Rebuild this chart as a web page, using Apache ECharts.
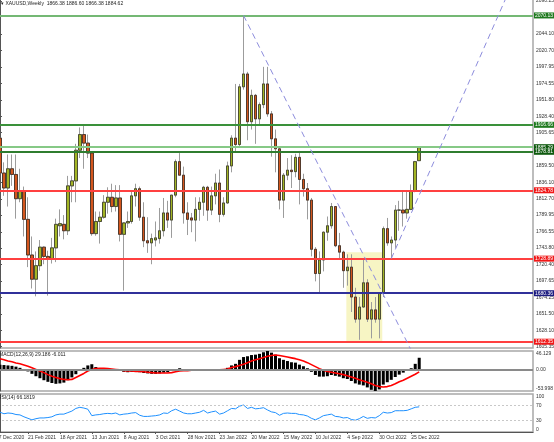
<!DOCTYPE html>
<html><head><meta charset="utf-8">
<script src="https://cdn.jsdelivr.net/npm/echarts/dist/echarts.min.js"></script>
<style>html,body{margin:0;padding:0;background:#fff}#c{width:554px;height:442px}</style>
</head><body><div id="c"></div>
<script>
// weekly bars, index 0 = week of 3 Jan 2021
const opens  = [1898,1849,1828,1855,1847,1813,1824,1784,1734,1700,1719,1745,1732,1729,1744,1775,1777,1768,1831,1838,1881,1903,1891,1877,1764,1781,1787,1808,1815,1802,1814,1763,1779,1781,1817,1827,1787,1754,1751,1755,1757,1768,1793,1783,1818,1865,1846,1793,1786,1783,1798,1808,1829,1797,1817,1835,1791,1807,1859,1898,1889,1970,1988,1921,1958,1925,1945,1974,1932,1897,1883,1811,1846,1853,1851,1871,1840,1827,1811,1742,1708,1727,1766,1775,1802,1747,1738,1712,1717,1675,1644,1661,1695,1644,1657,1644,1681,1771,1751,1755,1797,1797,1793,1798,1824,1866.38];
const highs  = [1959,1864,1875,1875,1875,1855,1830,1815,1760,1739,1755,1746,1740,1758,1785,1798,1790,1845,1845,1890,1913,1916,1903,1878,1795,1795,1818,1829,1834,1832,1832,1780,1795,1823,1834,1830,1808,1787,1764,1781,1800,1814,1810,1818,1868,1877,1858,1808,1793,1815,1815,1831,1831,1830,1848,1854,1815,1865,1902,1974,1974,2070,1991,1966,1960,1948,1998,1998,1936,1910,1885,1849,1870,1874,1876,1880,1848,1835,1814,1745,1739,1767,1788,1807,1802,1765,1740,1735,1735,1688,1675,1729,1700,1668,1675,1682,1774,1786,1760,1804,1810,1825,1823,1833,1866,1886.60];
const lows   = [1834,1817,1802,1831,1785,1808,1760,1717,1687,1676,1712,1721,1677,1722,1724,1760,1756,1762,1808,1808,1870,1855,1870,1761,1761,1750,1785,1792,1794,1795,1753,1684,1772,1778,1802,1782,1745,1737,1721,1746,1750,1760,1772,1758,1815,1846,1778,1762,1766,1753,1782,1789,1782,1790,1805,1780,1788,1806,1850,1878,1885,1966,1895,1910,1890,1915,1940,1928,1872,1850,1798,1786,1839,1828,1843,1805,1816,1784,1732,1697,1681,1711,1754,1771,1745,1727,1688,1691,1654,1639,1615,1660,1640,1617,1639,1617,1675,1747,1728,1744,1768,1774,1785,1797,1822,1866.38];
const closes = [1849,1828,1855,1847,1813,1824,1784,1734,1700,1719,1745,1732,1729,1744,1777,1778,1768,1831,1838,1881,1903,1891,1877,1764,1781,1787,1808,1815,1802,1814,1763,1779,1781,1817,1827,1787,1754,1751,1757,1758,1768,1793,1783,1818,1865,1846,1793,1784,1783,1798,1808,1829,1797,1817,1835,1791,1807,1859,1898,1889,1970,1988,1921,1958,1925,1945,1974,1932,1897,1883,1811,1846,1853,1851,1871,1840,1827,1811,1742,1708,1727,1766,1775,1802,1747,1738,1712,1717,1675,1644,1661,1695,1644,1657,1644,1681,1771,1751,1755,1797,1797,1793,1798,1824,1865,1884.62];

const macdMain = [12,11,10,9,7,4,0,-5,-11,-17,-22,-27,-31,-34,-36,-35,-33,-27,-20,-12,-4,4,10,13,6,2,0,-1,-1,-2,-4,-6,-7,-6,-5,-7,-9,-10,-11,-11,-10,-8,-7,-4,1,3,1,-1,-2,-2,-2,0,-1,0,1,0,1,4,10,14,24,31,33,36,37,39,43,46.1,42,37,28,24,21,18,17,12,8,3,-6,-14,-18,-18,-17,-14,-16,-18,-22,-24,-29,-35,-38,-40,-45,-51,-54,-50,-38,-32,-26,-19,-13,-8,-3,3,14,29.186];
const macdSignal = [27,24,21,19,16,14,11,8,4,0,-4,-8,-13,-17,-20,-23,-25,-26,-25,-20,-15,-10,-4,0,2,3,3,2,1,0,-1,-3,-4,-4,-5,-5,-6,-7,-8,-9,-9,-9,-9,-8,-6,-4,-3,-3,-2,-2,-2,-2,-1,-1,-1,-1,0,1,5,7,10,13,17,21,24,27,30,33,35,36,35,33,31,29,27,24,21,17,12,7,2,-2,-5,-7,-9,-11,-13,-16,-19,-22,-26,-29,-32,-36,-40,-43,-44,-43,-40,-36,-31,-27,-22,-17,-12,-6.011];
const rsi = [52,48,50,49,46,45,40,36,32,35,37,37,38,40,45,47,47,51,55,62,65,63,60,43,45,46,48,49,48,50,45,47,48,50,51,44,41,41,42,43,45,50,49,56,60,55,50,48,48,50,52,57,50,53,55,47,50,56,62,61,68,71,62,65,61,62,64,58,53,51,44,49,50,49,49,46,45,42,36,32,37,43,45,47,41,40,37,38,33,31,35,41,36,38,37,43,52,50,51,56,56,56,57,61,65,66.18];

const priceTicks = [2090.25,2044.10,2020.70,1997.95,1974.55,1951.80,1928.40,1905.65,1859.50,1836.10,1812.70,1789.95,1766.55,1743.80,1720.40,1697.65,1674.25,1651.50,1628.10,1605.35];
const dateTicks = ['27 Dec 2020','21 Feb 2021','18 Apr 2021','13 Jun 2021','8 Aug 2021','3 Oct 2021','28 Nov 2021','23 Jan 2022','20 Mar 2022','15 May 2022','10 Jul 2022','4 Sep 2022','30 Oct 2022','25 Dec 2022'];
const dateTickPos = [-1,7,15,23,31,39,47,55,63,71,79,87,95,103];
const macdTickText = ['46.129','0.00','-53.998'];
const macdTickPos = [38.6,0,-47];
const rsiTickText = ['100','70','30','0'];
const rsiTickPos = [93,70,30,5];

const levelPrices = [2070.13,1916.66,1885.29,1878.81,1824.78,1728.89,1680.36,1612.35];
const levelLineColors = ['#74b874','#3a913a','#86c986','#2f7d2f','#ff4040','#ff4040','#30309a','#ff4040'];
const levelTagColors = ['#1f7a1f','#1f7a1f','#0f5a0f','#0f5a0f','#f01818','#f01818','#1c1c80','#f01818'];

const trendDown = [[61,2070.13],[106,1566.6]];
const trendUp = [[98,1728.89],[130,2136.3]];
const boxX = [86.75,95.75];
const boxY = [1612.35,1738];

const FONT = '"Liberation Sans", Arial, sans-serif';
const wickData = opens.map((o,k)=>[k,o,closes[k],lows[k],highs[k]]);
const bodyData = opens.map((o,k)=>[k,o,closes[k],Math.min(o,closes[k]),Math.max(o,closes[k])]);

const xBase = {type:'value', min:-1.5, max:133.5};
const chart = echarts.init(document.getElementById('c'));
chart.setOption({
  animation:false,
  backgroundColor:'#ffffff',
  title:[
    {text:'\u25BE XAUUSD,Weekly  1866.38 1886.60 1866.38 1884.62', left:1, top:1, padding:0, textStyle:{fontSize:5, fontWeight:'normal', color:'#222', fontFamily:FONT}},
    {text:'MACD(12,26,9) 29.186 -6.011', left:-1, top:352, padding:0, textStyle:{fontSize:5, fontWeight:'normal', color:'#222', fontFamily:FONT}},
    {text:'RSI(14) 66.1819', left:-2, top:395, padding:0, textStyle:{fontSize:5, fontWeight:'normal', color:'#222', fontFamily:FONT}}
  ],
  grid:[
    {left:-6, right:21, top:-2, height:350, show:true, borderColor:'#a8a8a8', borderWidth:1.5, outerBoundsMode:'none', containLabel:false},
    {left:-6, right:21, top:351, height:40, show:true, borderColor:'#a8a8a8', borderWidth:1.5, outerBoundsMode:'none', containLabel:false},
    {left:-6, right:21, top:394, height:38, show:true, borderColor:'#a8a8a8', borderWidth:1.5, outerBoundsMode:'none', containLabel:false}
  ],
  xAxis:[
    Object.assign({gridIndex:0, show:false}, xBase),
    Object.assign({gridIndex:1, show:false}, xBase),
    Object.assign({gridIndex:2, show:true, position:'bottom',
      axisLine:{show:true, lineStyle:{color:'#555', width:1}},
      axisTick:{show:true, customValues:dateTickPos, length:2, lineStyle:{color:'#555'}},
      axisLabel:{show:true, customValues:dateTickPos, formatter:(v)=>{const k=dateTickPos.indexOf(Math.round(v)); return k>=0?dateTicks[k]:'';}, fontSize:5, color:'#333', align:'left', margin:3, fontFamily:FONT},
      splitLine:{show:false}}, xBase)
  ],
  yAxis:[
    {gridIndex:0, type:'value', position:'right', min:1603.5, max:2094.6,
      axisLine:{show:true, lineStyle:{color:'#555', width:1}},
      axisTick:{show:true, customValues:priceTicks, length:2, lineStyle:{color:'#555'}},
      axisLabel:{show:true, customValues:priceTicks, formatter:(v)=>v.toFixed(2), fontSize:5, color:'#333', margin:3, fontFamily:FONT},
      splitLine:{show:false}},
    {gridIndex:1, type:'value', position:'right', min:-53.998, max:46.129,
      axisLine:{show:true, lineStyle:{color:'#555', width:1}},
      axisTick:{show:false},
      axisLabel:{show:true, customValues:macdTickPos, formatter:(v)=>{const k=macdTickPos.indexOf(v); return k>=0?macdTickText[k]:'';}, fontSize:5, color:'#333', margin:3, fontFamily:FONT},
      splitLine:{show:false}},
    {gridIndex:2, type:'value', position:'right', min:0, max:100,
      axisLine:{show:true, lineStyle:{color:'#555', width:1}},
      axisTick:{show:false},
      axisLabel:{show:true, customValues:rsiTickPos, formatter:(v)=>{const k=rsiTickPos.indexOf(v); return k>=0?rsiTickText[k]:'';}, fontSize:5, color:'#333', margin:3, fontFamily:FONT},
      splitLine:{show:false}}
  ],
  series:[
    {type:'line', xAxisIndex:0, yAxisIndex:0, data:[[boxX[0],boxY[0]]], symbol:'none', lineStyle:{opacity:0}, z:1, silent:true,
      markArea:{silent:true, itemStyle:{color:'#f7f5c4', opacity:1}, data:[[{coord:[boxX[0],boxY[1]]},{coord:[boxX[1],boxY[0]]}]]}},
    {type:'line', xAxisIndex:0, yAxisIndex:0, data:[[0,levelPrices[0]]], symbol:'none', lineStyle:{opacity:0}, z:2, silent:true,
      markLine:{silent:true, symbol:['none','none'], animation:false,
        data: levelPrices.map((p,k)=>({yAxis:p, lineStyle:{color:levelLineColors[k], width:2, type:'solid'},
          label:{show:true, position:'end', distance:1, formatter:p.toFixed(2), color:'#fff', backgroundColor:levelTagColors[k], padding:[1,1,0,1], fontSize:5, fontFamily:FONT}}))}},
    {type:'candlestick', xAxisIndex:0, yAxisIndex:0, data:wickData, encode:{x:0, y:[1,2,3,4]}, barWidth:3, z:3,
      itemStyle:{color:'transparent', color0:'transparent', borderColor:'#9c9c9c', borderColor0:'#9c9c9c', borderWidth:1}},
    {type:'candlestick', xAxisIndex:0, yAxisIndex:0, data:bodyData, encode:{x:0, y:[1,2,3,4]}, barWidth:3, z:4,
      itemStyle:{color:'#a3b524', color0:'#d4561d', borderColor:'#3a3a2a', borderColor0:'#3a2a20', borderWidth:0.8}},
    {type:'line', xAxisIndex:0, yAxisIndex:0, data:trendDown, symbol:'none', z:5, clip:true,
      lineStyle:{color:'#8c8cdc', width:1, type:[6,4]}},
    {type:'line', xAxisIndex:0, yAxisIndex:0, data:trendUp, symbol:'none', z:5, clip:true,
      lineStyle:{color:'#8c8cdc', width:1, type:[6,4]}},
    {type:'bar', xAxisIndex:1, yAxisIndex:1, data:macdMain.map((v,k)=>[k,v]), barWidth:3, itemStyle:{color:'#000'}, z:3,
      markLine:{silent:true, symbol:['none','none'], label:{show:false}, data:[{yAxis:0}], lineStyle:{color:'#8a8a8a', width:2, type:'solid'}}},
    {type:'line', xAxisIndex:1, yAxisIndex:1, data:macdSignal.map((v,k)=>[k,v]), symbol:'none', z:4, lineStyle:{color:'#ff0000', width:1.6}},
    {type:'line', xAxisIndex:2, yAxisIndex:2, data:rsi.map((v,k)=>[k,v]), symbol:'none', z:4, lineStyle:{color:'#1e90ff', width:1},
      markLine:{silent:true, symbol:['none','none'], label:{show:false}, data:[{yAxis:70},{yAxis:30}], lineStyle:{color:'#c8c8c8', width:1, type:[2,2]}}}
  ]
});
</script></body></html>
